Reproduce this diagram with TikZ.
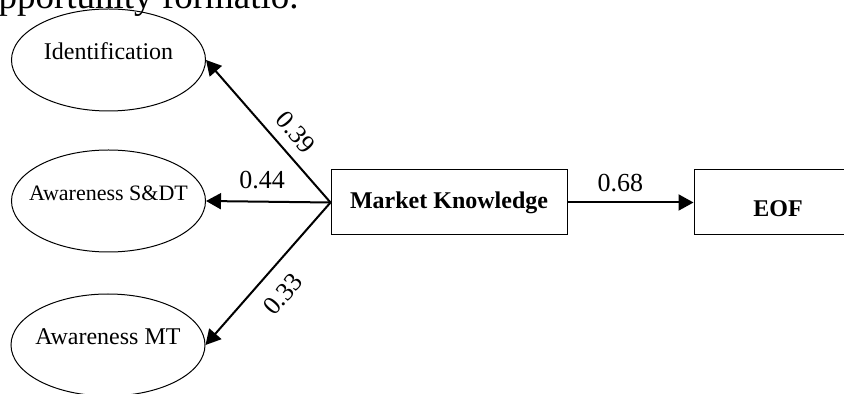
\documentclass[tikz,border=0pt]{standalone}
\usepackage{fontspec}
\setmainfont{Liberation Serif}
\usetikzlibrary{arrows.meta,shapes.geometric}
\begin{document}
\begin{tikzpicture}[x=0.5pt, y=-0.5pt, >={Triangle[length=7.5pt,width=8pt]},
      every node/.append style={font=\fontsize{12}{14}\selectfont},
      latent/.style={ellipse, draw=black, line width=0.5pt, minimum width=97pt, minimum height=51pt, inner sep=0pt, text height=8pt, text depth=8pt},
      construct/.style={draw=black, line width=0.5pt, minimum height=32.5pt, inner sep=0pt, font=\fontsize{12}{14}\selectfont\bfseries},
      link/.style={->, line width=1pt},
      coef/.style={font=\fontsize{13}{15}\selectfont}]

    \useasboundingbox (0,0) rectangle (844,394);
    \clip (0,0) rectangle (844,394);

    % ---------------- page text, cut at the top ----------------
    \node[anchor=base east, inner sep=0pt, font=\fontsize{18.5}{21}\selectfont] (cap) at (299,9) {opportunity formatio.};

    % ---------------- dimensions ----------------
    \node[latent] (ident) at (108.5,60)  {\makebox[0pt]{Identification}};
    \node[latent, font=\fontsize{11}{13}\selectfont] (sdt) at (108.5,201) {\makebox[0pt]{Awareness S\&DT}};
    \node[latent] (mt)    at (108,345)   {\makebox[0pt]{Awareness MT}};

    % ---------------- constructs ----------------
    \node[construct, minimum width=118pt] (mk) at (449,202.5) {Market Knowledge};
    \node[construct, minimum width=84pt, text height=14pt, text depth=0pt] (eof) at (778,202.5) {EOF};

    % ---------------- paths and loadings ----------------
    \draw[link] (mk.west) -- node[coef, sloped, above=1.8pt, pos=0.4] (c39) {0.39} (ident.east);
    \draw[link] (mk.west) -- node[coef, above=2.8pt, pos=0.55] (c44) {0.44} (sdt.east);
    \draw[link] (mk.west) -- node[coef, sloped, below=4.1pt, pos=0.53] (c33) {0.33} (mt.east);
    \draw[link] (mk.east) -- node[coef, above=1.5pt, pos=0.42] (c68) {0.68} (eof.west);
  \end{tikzpicture}
\end{document}
